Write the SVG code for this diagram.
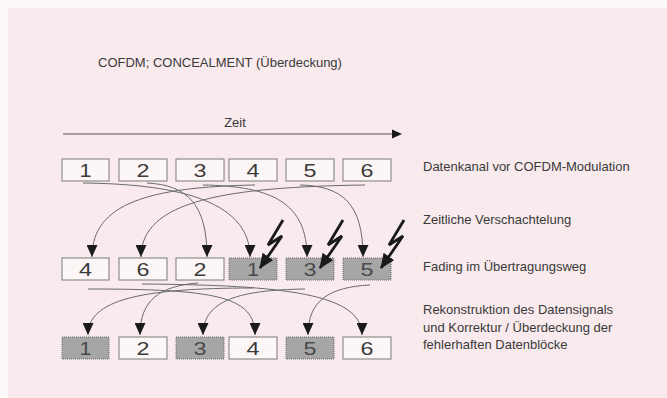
<svg xmlns="http://www.w3.org/2000/svg" width="667" height="398" viewBox="0 0 667 398">
<defs>
<style>
.t{font-family:"Liberation Sans",Arial,sans-serif;font-size:13px;fill:#3a3a3a}
.n{font-family:"Liberation Sans",Arial,sans-serif;font-size:18px;fill:#3c3c3c;text-anchor:middle}
.ns{font-family:"Liberation Sans",Arial,sans-serif;font-size:18px;fill:#4a4a4a;text-anchor:middle}
.b{fill:#fcf6f6;stroke:#7a7a7a;stroke-width:1}
.s{fill:#a6a6a6;stroke:#6a6a6a;stroke-width:1;stroke-dasharray:1 1}
.c{fill:none;stroke:#6a6a6a;stroke-width:1;marker-end:url(#ah)}
.z{fill:none;stroke:#1a1a1a;stroke-width:2.8;stroke-linejoin:miter;marker-end:url(#bh)}
</style>
<marker id="ah" viewBox="0 0 12 11" refX="12" refY="5.5" markerWidth="12" markerHeight="11" markerUnits="userSpaceOnUse" orient="auto">
<path d="M0,0 L12,5.5 L0,11 z" fill="#1a1a1a"/>
</marker>
<marker id="bh" viewBox="0 0 15 13" refX="14" refY="6.5" markerWidth="15" markerHeight="13" markerUnits="userSpaceOnUse" orient="auto">
<path d="M0,0 L15,6.5 L0,13 z" fill="#1a1a1a"/>
</marker>
</defs>
<rect x="0" y="0" width="667" height="398" fill="#fdf9f9"/>
<rect x="8" y="8" width="659" height="390" fill="#f8eaed"/>

<text class="t" x="98" y="67">COFDM; CONCEALMENT (Überdeckung)</text>

<g id="zeit">
<text class="t" x="235" y="127" text-anchor="middle">Zeit</text>
<line x1="63" y1="134" x2="392" y2="134" stroke="#555" stroke-width="1"/>
<path d="M392,129.5 L402,134 L392,138.5 z" fill="#1a1a1a"/>
</g>

<g id="labels">
<text class="t" x="423" y="171">Datenkanal vor COFDM-Modulation</text>
<text class="t" x="423" y="224">Zeitliche Verschachtelung</text>
<text class="t" x="423" y="271">Fading im Übertragungsweg</text>
<text class="t" x="423" y="314">Rekonstruktion des Datensignals</text>
<text class="t" x="423" y="332">und Korrektur / Überdeckung der</text>
<text class="t" x="423" y="349">fehlerhaften Datenblöcke</text>
</g>

<!-- top row -->
<g id="top1"><rect class="b" x="62" y="159" width="47" height="22"/><text class="n" x="85.5" y="177" textLength="12" lengthAdjust="spacingAndGlyphs">1</text></g>
<g id="top2"><rect class="b" x="119" y="159" width="48" height="22"/><text class="n" x="143" y="177" textLength="13" lengthAdjust="spacingAndGlyphs">2</text></g>
<g id="top3"><rect class="b" x="176" y="159" width="48" height="22"/><text class="n" x="200" y="177" textLength="13" lengthAdjust="spacingAndGlyphs">3</text></g>
<g id="top4"><rect class="b" x="229" y="159" width="48" height="22"/><text class="n" x="253" y="177" textLength="13" lengthAdjust="spacingAndGlyphs">4</text></g>
<g id="top5"><rect class="b" x="286" y="159" width="48" height="22"/><text class="n" x="310" y="177" textLength="13" lengthAdjust="spacingAndGlyphs">5</text></g>
<g id="top6"><rect class="b" x="343" y="159" width="48" height="22"/><text class="n" x="367" y="177" textLength="13" lengthAdjust="spacingAndGlyphs">6</text></g>

<!-- middle row -->
<g id="mid4"><rect class="b" x="62" y="258" width="47" height="22"/><text class="n" x="85.5" y="276" textLength="13" lengthAdjust="spacingAndGlyphs">4</text></g>
<g id="mid6"><rect class="b" x="119" y="258" width="48" height="22"/><text class="n" x="143" y="276" textLength="13" lengthAdjust="spacingAndGlyphs">6</text></g>
<g id="mid2"><rect class="b" x="176" y="258" width="48" height="22"/><text class="n" x="200" y="276" textLength="13" lengthAdjust="spacingAndGlyphs">2</text></g>
<g id="mid1"><rect class="s" x="229" y="258" width="48" height="22"/><text class="ns" x="253" y="276" textLength="12" lengthAdjust="spacingAndGlyphs">1</text></g>
<g id="mid3"><rect class="s" x="286" y="258" width="48" height="22"/><text class="ns" x="310" y="276" textLength="13" lengthAdjust="spacingAndGlyphs">3</text></g>
<g id="mid5"><rect class="s" x="343" y="258" width="48" height="22"/><text class="ns" x="367" y="276" textLength="13" lengthAdjust="spacingAndGlyphs">5</text></g>

<!-- bottom row -->
<g id="bot1"><rect class="s" x="62" y="337" width="47" height="22"/><text class="ns" x="85.5" y="355" textLength="12" lengthAdjust="spacingAndGlyphs">1</text></g>
<g id="bot2"><rect class="b" x="119" y="337" width="48" height="22"/><text class="n" x="143" y="355" textLength="13" lengthAdjust="spacingAndGlyphs">2</text></g>
<g id="bot3"><rect class="s" x="176" y="337" width="48" height="22"/><text class="ns" x="200" y="355" textLength="13" lengthAdjust="spacingAndGlyphs">3</text></g>
<g id="bot4"><rect class="b" x="229" y="337" width="48" height="22"/><text class="n" x="253" y="355" textLength="13" lengthAdjust="spacingAndGlyphs">4</text></g>
<g id="bot5"><rect class="s" x="286" y="337" width="48" height="22"/><text class="ns" x="310" y="355" textLength="13" lengthAdjust="spacingAndGlyphs">5</text></g>
<g id="bot6"><rect class="b" x="343" y="337" width="48" height="22"/><text class="n" x="367" y="355" textLength="13" lengthAdjust="spacingAndGlyphs">6</text></g>

<g id="connectors">
<!-- interleaving -->
<path class="c" d="M83,183 C170,184 250,198 250,257"/>
<path class="c" d="M147,183 C188,185 207,205 207,257"/>
<path class="c" d="M203,185 C272,186 307,203 307,257"/>
<path class="c" d="M255,185 C150,187 92,203 92,257"/>
<path class="c" d="M300,185 C342,186 363,203 363,257"/>
<path class="c" d="M365,185 C228,187 141,200 141,257"/>
<!-- de-interleaving -->
<path class="c" d="M88,289 C215,289 255,296 255,335"/>
<path class="c" d="M142,284 C285,285 362,294 362,335"/>
<path class="c" d="M198,283 C160,286 140,300 140,335"/>
<path class="c" d="M253,288 C140,288 88,300 88,335"/>
<path class="c" d="M305,289 C240,290 203,300 203,335"/>
<path class="c" d="M370,285 C330,287 308,300 308,335"/>
</g>

<g id="fading">
<polyline class="z" points="283,220 268,245 282,236 260,268"/>
<polyline class="z" points="343,220 328,245 342,236 320,268"/>
<polyline class="z" points="404,220 389,245 403,236 381,268"/>
</g>
</svg>
